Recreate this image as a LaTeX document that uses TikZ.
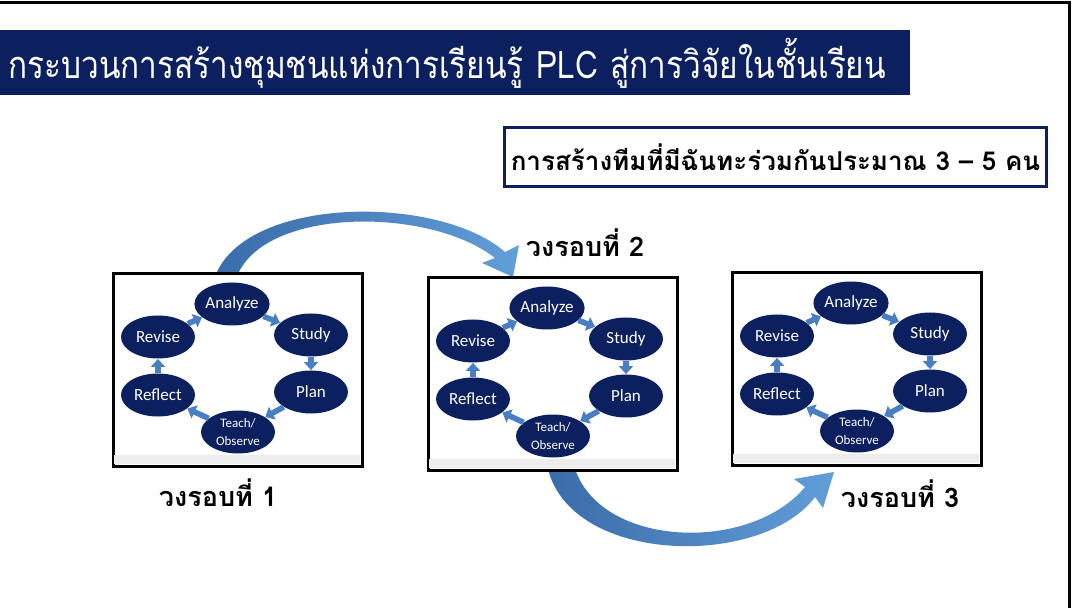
\documentclass[tikz,border=0pt]{standalone}
\usepackage{fontspec}
\usepackage{tikz}
\usetikzlibrary{shapes.geometric}
\usetikzlibrary{arrows.meta}
\newfontfamily\thaifont[Script=Thai]{Loma}
\newfontfamily\thainarrow[Script=Thai,FakeStretch=0.83]{Loma}
\newfontfamily\engfont{Carlito}
\definecolor{plcnavy}{RGB}{12,32,96}
\definecolor{phaseblue}{RGB}{74,126,194}
\definecolor{arrowdark}{RGB}{58,108,170}
\definecolor{arrowlight}{RGB}{98,158,216}
\tikzset{
  outerframe/.style={line width=1.5pt},
  titlebar/.style={rectangle,fill=plcnavy,text=white,anchor=north west,
    minimum width=455pt,minimum height=32.5pt,inner xsep=4pt,
    text width=447pt,align=left,font=\thainarrow\fontsize{19}{21}\selectfont},
  teambox/.style={rectangle,draw=plcnavy,line width=1.5pt,fill=white,
    minimum width=270.5pt,minimum height=29.5pt,
    font=\thaifont\bfseries\fontsize{13}{15}\selectfont},
  roundlabel/.style={font=\thaifont\bfseries\fontsize{13.5}{15}\selectfont},
  cycbox/.style={rectangle,draw=black,line width=1.5pt,fill=white,anchor=north west,
    minimum width=124.5pt,minimum height=96.5pt,inner sep=0pt},
  boxfoot/.style={fill=black!7},
  phasenode/.style={ellipse,fill=plcnavy,text=white,inner sep=0pt,
    minimum width=37pt,minimum height=21.5pt,font=\engfont\fontsize{8.5}{9}\selectfont},
  phasearrow/.style={draw=phaseblue,line width=2.8pt,
    -{Triangle[width=7pt,length=4pt]},shorten <=0pt,shorten >=0pt},
  bigarrow/.style={left color=arrowdark,right color=arrowlight,draw=none}
}
% one PDCA-like round: #1 suffix, #2/#3 top left corner
\newcommand{\plccycle}[3]{%
  \begin{scope}[shift={(#2,#3)}]
    \node[cycbox] (box#1) at (0,0) {};
    \fill[boxfoot] (1.5,183) rectangle (247.5,191.5);
    \node[phasenode] (an#1) at (120,32) {Analyze};
    \node[phasenode] (st#1) at (199,63) {Study};
    \node[phasenode] (pl#1) at (199,120) {Plan};
    \node[phasenode,align=center,font=\engfont\fontsize{6.5}{9}\selectfont] (te#1) at (126,160) {Teach/\\Observe};
    \node[phasenode] (rf#1) at (46,123) {Reflect};
    \node[phasenode] (rv#1) at (46,65) {Revise};
    \draw[phasearrow] (an#1) -- (st#1);
    \draw[phasearrow] (st#1) -- (pl#1);
    \draw[phasearrow] (pl#1) -- (te#1);
    \draw[phasearrow] (te#1) -- (rf#1);
    \draw[phasearrow] (rf#1) -- (rv#1);
    \draw[phasearrow] (rv#1) -- (an#1);
  \end{scope}}

\begin{document}
\begin{tikzpicture}[x=0.5pt,y=-0.5pt]
  \useasboundingbox (0,0) rectangle (1074,608);
  \draw[outerframe] (0,3) -- (1069,3) -- (1069,608);
  \node[titlebar] (title) at (0,30) {กระบวนการสร้างชุมชนแห่งการเรียนรู้ PLC สู่การวิจัยในชั้นเรียน};
  \node[teambox] (team) at (775.5,157.5) {การสร้างทีมที่มีฉันทะร่วมกันประมาณ 3 – 5 คน};
  % curved arrows behind the boxes
  \shade[bigarrow] (216,274) .. controls (250,195) and (440,195) .. (505,252)
    -- (519,245) -- (513,277) -- (482,263) -- (495,258)
    .. controls (430,207) and (268,207) .. (238,274) -- cycle;
  \shade[bigarrow] (548,469) .. controls (572,565) and (762,568) .. (815,497)
    -- (823,508) -- (834,472) -- (794,479) -- (805,487)
    .. controls (750,553) and (602,548) .. (575,469) -- cycle;
  \plccycle{1}{112}{272}
  \plccycle{2}{427}{276}
  \plccycle{3}{731}{271}
  \node[roundlabel] (lab1) at (218,493) {วงรอบที่ 1};
  \node[roundlabel] (lab2) at (585,243) {วงรอบที่ 2};
  \node[roundlabel] (lab3) at (900,494) {วงรอบที่ 3};
\end{tikzpicture}
\end{document}
